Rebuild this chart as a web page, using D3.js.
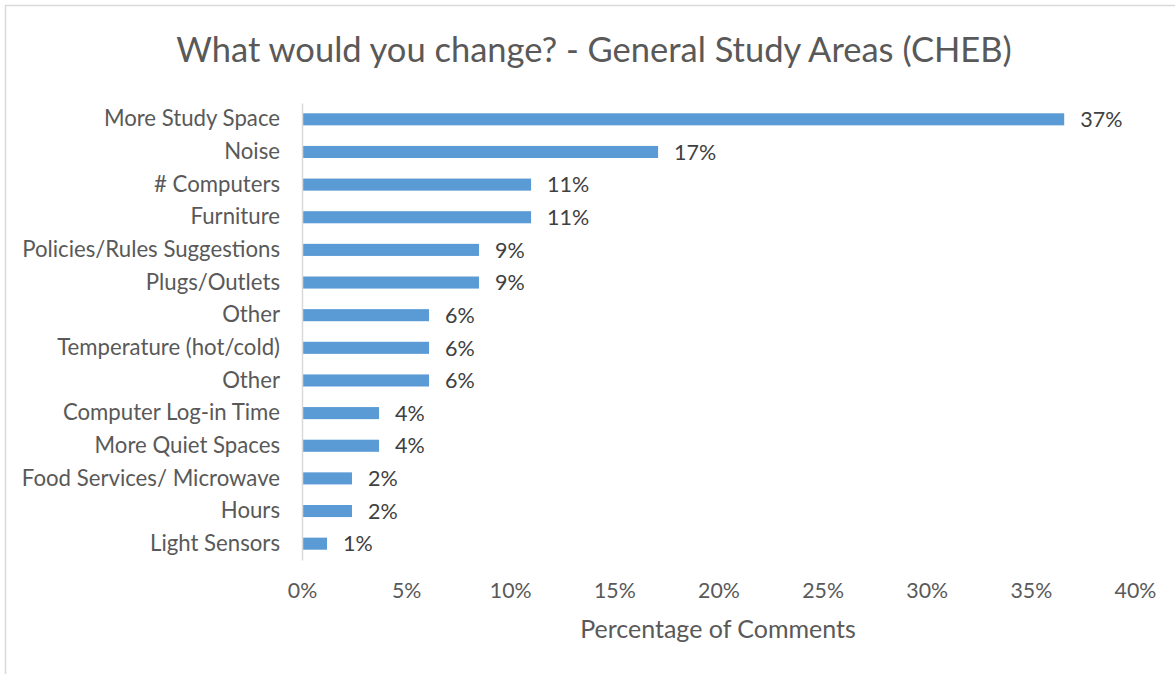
<!DOCTYPE html>
<html>
<head>
<meta charset="utf-8">
<script src="https://cdn.jsdelivr.net/npm/d3@7"></script>
<style>
  body { margin: 0; background: #fff; }
  svg { display: block; font-family: Lato, "Open Sans", sans-serif; }
</style>
</head>
<body>
<svg id="chart" width="1175" height="674"></svg>
<script>
// Categories, top to bottom
var categories = ["More Study Space", "Noise", "# Computers", "Furniture",
  "Policies/Rules Suggestions", "Plugs/Outlets", "Other", "Temperature (hot/cold)",
  "Other ", "Computer Log-in Time", "More Quiet Spaces", "Food Services/ Microwave",
  "Hours", "Light Sensors"];

// Share of comments (%)
var shares = [36.6, 17.1, 11.0, 11.0, 8.5, 8.5, 6.1, 6.1, 6.1, 3.7, 3.7, 2.4, 2.4, 1.2];

// x ticks
var xTicks = [0, 5, 10, 15, 20, 25, 30, 35, 40];

var svg = d3.select("#chart");

// outer frame (right and bottom edges fall outside the picture)
svg.append("rect")
  .attr("x", 5.5).attr("y", 5.5)
  .attr("width", 1180).attr("height", 680)
  .attr("fill", "none").attr("stroke", "#d9d9d9").attr("stroke-width", 1.5);

var x = d3.scaleLinear().domain([0, 40]).range([302, 1135]);
var y = d3.scaleBand().domain(categories).range([103, 560])
  .paddingInner(0.63).paddingOuter(0.315);

// Title
svg.append("text")
  .attr("x", 594).attr("y", 62)
  .attr("text-anchor", "middle")
  .attr("font-size", 34.5)
  .attr("fill", "#595959")
  .text("What would you change? - General Study Areas (CHEB)");

// Bars
svg.selectAll(".bar")
  .data(categories)
  .enter().append("rect")
  .attr("class", "bar")
  .attr("x", x(0))
  .attr("y", d => y(d))
  .attr("width", (d, i) => x(shares[i]) - x(0))
  .attr("height", y.bandwidth())
  .attr("fill", "#5b9bd5");

// Data labels
svg.selectAll(".val")
  .data(categories)
  .enter().append("text")
  .attr("class", "val")
  .attr("x", (d, i) => x(shares[i]) + 16)
  .attr("y", d => y(d) + y.bandwidth() / 2)
  .attr("dy", "0.36em")
  .attr("font-size", 21.5)
  .attr("fill", "#404040")
  .text((d, i) => Math.round(shares[i]) + "%");

// Category axis
var yAxis = svg.append("g")
  .attr("transform", "translate(" + x(0) + ",0)")
  .call(d3.axisLeft(y).tickSize(0).tickPadding(22));
yAxis.select(".domain").attr("stroke", "#d9d9d9").attr("stroke-width", 1.5);
yAxis.selectAll("text")
  .attr("font-size", 22.2)
  .attr("fill", "#595959")
  .attr("font-family", "Lato, 'Open Sans', sans-serif")
  .text(d => d.trim());

// Value axis (labels only)
var xAxis = svg.append("g")
  .attr("transform", "translate(0,580)")
  .call(d3.axisBottom(x).tickValues(xTicks).tickSize(0).tickFormat(d => d + "%"));
xAxis.select(".domain").remove();
xAxis.selectAll("text")
  .attr("font-size", 21.3)
  .attr("fill", "#595959")
  .attr("font-family", "Lato, 'Open Sans', sans-serif");

// Axis title
svg.append("text")
  .attr("x", 718).attr("y", 638)
  .attr("text-anchor", "middle")
  .attr("font-size", 25)
  .attr("fill", "#595959")
  .text("Percentage of Comments");
</script>
</body>
</html>
